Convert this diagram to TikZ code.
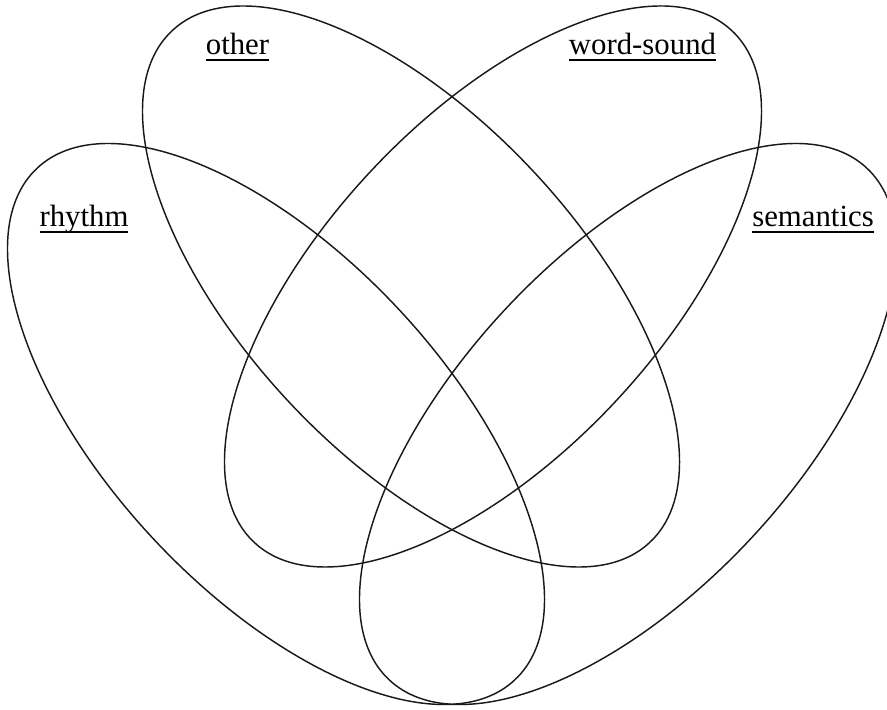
\documentclass[tikz,border=0pt]{standalone}
\usepackage{fontspec}
\setmainfont{Liberation Serif}
\newcommand\ulabel[1]{\setbox0\hbox{#1}\rlap{\rule[-0.2em]{\wd0}{0.065em}}\box0}
\begin{document}
\begin{tikzpicture}[x=1pt,y=1pt,
  setline/.style={line width=1.45pt, black!90},
  setlabel/.style={anchor=base, inner sep=0pt, font=\fontsize{30.8}{37}\selectfont}]
\useasboundingbox (0,0) rectangle (887,710);
\clip (0,0) rectangle (887,710);
% centres (image x, 710 - image y)
\coordinate (cO) at (411,423.5);
\coordinate (cW) at (493,423.5);
\coordinate (cR) at (276,286);
\coordinate (cS) at (628,286);
\draw[setline, rotate around={-47:(cO)}] (cO) ellipse [x radius=350, y radius=168];
\draw[setline, rotate around={47:(cW)}] (cW) ellipse [x radius=350, y radius=168];
\draw[setline, rotate around={-47:(cR)}] (cR) ellipse [x radius=350, y radius=168];
\draw[setline, rotate around={47:(cS)}] (cS) ellipse [x radius=350, y radius=168];
\node[setlabel] (lo) at (237.5,655) {\ulabel{other}};
\node[setlabel] (lw) at (642.5,655) {\ulabel{word-sound}};
\node[setlabel] (lr) at (84,483) {\ulabel{rhythm}};
\node[setlabel] (ls) at (813,483) {\ulabel{semantics}};
\end{tikzpicture}
\end{document}
